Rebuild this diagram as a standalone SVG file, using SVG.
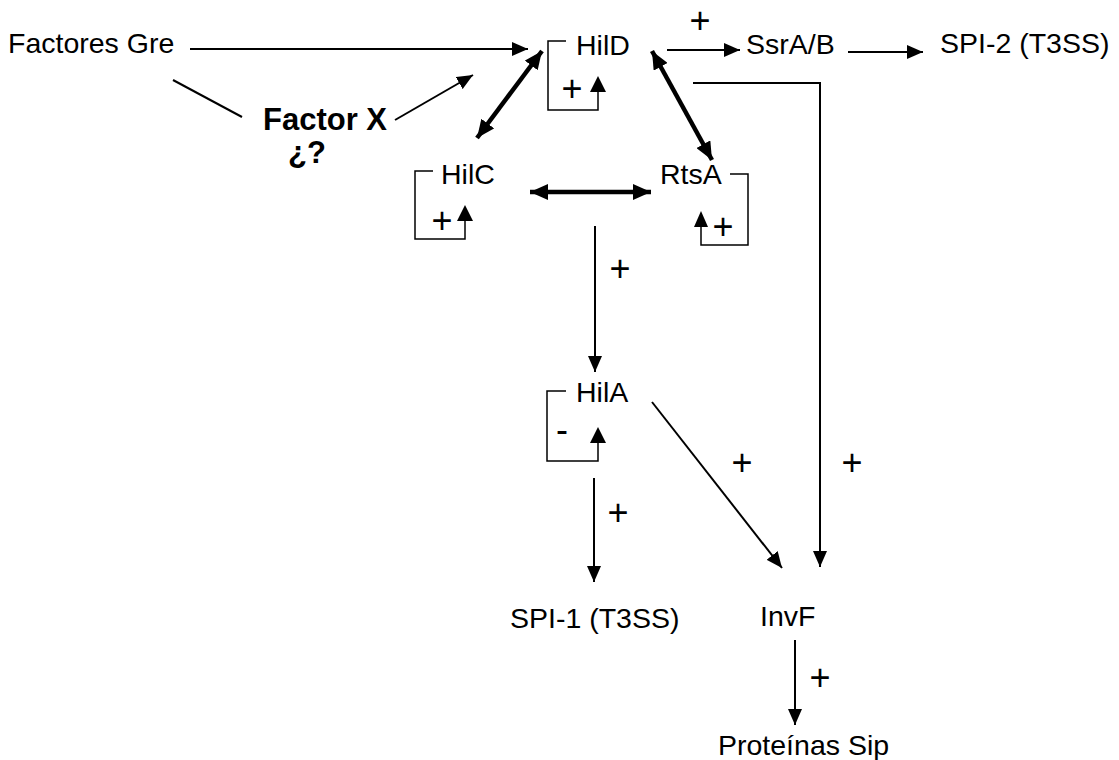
<svg xmlns="http://www.w3.org/2000/svg" width="1119" height="760" viewBox="0 0 1119 760">
<style>
text{font-family:"Liberation Sans",Arial,sans-serif;font-size:28.5px;fill:#000}
.b{font-weight:bold;font-size:31px}
.m{text-anchor:middle}
.p{font-size:36px;text-anchor:middle}
.thin{stroke:#000;stroke-width:2;fill:none}
.thick{stroke:#000;stroke-width:4.5;fill:none}
.br{stroke:#000;stroke-width:1.5;fill:none}
.hd{fill:#000;stroke:none}
</style>
<defs>
<marker id="a" markerUnits="userSpaceOnUse" markerWidth="16" markerHeight="14" refX="16" refY="7" orient="auto">
<path d="M0,0 L16,7 L0,14 z" fill="#000"/>
</marker>
<marker id="t" markerUnits="userSpaceOnUse" markerWidth="18" markerHeight="16" refX="18" refY="8" orient="auto-start-reverse">
<path d="M0,0 L18,8 L0,16 z" fill="#000"/>
</marker>
</defs>
<rect width="1119" height="760" fill="#fff"/>
<g id="connectors">
<line class="thin" x1="190" y1="49" x2="528" y2="49" marker-end="url(#a)"/>
<line class="thin" x1="173" y1="80" x2="242" y2="117"/>
<line class="thin" x1="395" y1="120" x2="473" y2="75" marker-end="url(#a)"/>
<line class="thick" x1="477" y1="138" x2="542" y2="51" marker-start="url(#t)" marker-end="url(#t)"/>
<line class="thick" x1="652" y1="51" x2="712" y2="160" marker-start="url(#t)" marker-end="url(#t)"/>
<line class="thick" x1="530" y1="192" x2="651" y2="192" marker-start="url(#t)" marker-end="url(#t)"/>
<line class="thin" x1="667" y1="50" x2="740" y2="50" marker-end="url(#a)"/>
<line class="thin" x1="848" y1="52" x2="923" y2="52" marker-end="url(#a)"/>
<polyline class="thin" points="693,83 820,83 820,567" marker-end="url(#a)"/>
<line class="thin" x1="595" y1="226" x2="595" y2="372" marker-end="url(#a)"/>
<line class="thin" x1="594" y1="478" x2="594" y2="582" marker-end="url(#a)"/>
<line class="thin" x1="652" y1="402" x2="782" y2="568" marker-end="url(#a)"/>
<line class="thin" x1="795" y1="640" x2="795" y2="725" marker-end="url(#a)"/>
<text class="p" x="700" y="33">+</text>
<text class="p" x="620" y="281">+</text>
<text class="p" x="618" y="525">+</text>
<text class="p" x="742" y="475">+</text>
<text class="p" x="852" y="475">+</text>
<text class="p" x="820" y="690">+</text>
</g>
<g id="factores-gre"><text x="8" y="53">Factores Gre</text></g>
<g id="factor-x">
<text class="b m" x="325" y="130">Factor X</text>
<text class="b m" x="307" y="163">¿?</text>
</g>
<g id="hild">
<text x="576" y="55">HilD</text>
<polyline class="br" points="566,41 548,41 548,110 598,110 598,91"/>
<polygon class="hd" points="590,92 606,92 598,76"/>
<text class="p" x="572" y="101">+</text>
</g>
<g id="ssrab"><text x="746" y="54">SsrA/B</text></g>
<g id="spi2"><text x="940" y="53">SPI-2 (T3SS)</text></g>
<g id="hilc">
<text x="441" y="184">HilC</text>
<polyline class="br" points="433,171 415,171 415,239 465,239 465,220"/>
<polygon class="hd" points="457,221 473,221 465,205"/>
<text class="p" x="442" y="233">+</text>
</g>
<g id="rtsa">
<text x="660" y="184">RtsA</text>
<polyline class="br" points="730,174 748,174 748,245 701,245 701,226"/>
<polygon class="hd" points="694,227 708,227 701,211"/>
<text class="p" x="723" y="239">+</text>
</g>
<g id="hila">
<text x="576" y="402">HilA</text>
<polyline class="br" points="566,391 547,391 547,461 598,461 598,442"/>
<polygon class="hd" points="590,443 606,443 598,427"/>
<text class="p" x="562" y="442">-</text>
</g>
<g id="spi1"><text x="510" y="628">SPI-1 (T3SS)</text></g>
<g id="invf"><text x="760" y="626">InvF</text></g>
<g id="sip"><text x="718" y="755">Proteínas Sip</text></g>
</svg>
